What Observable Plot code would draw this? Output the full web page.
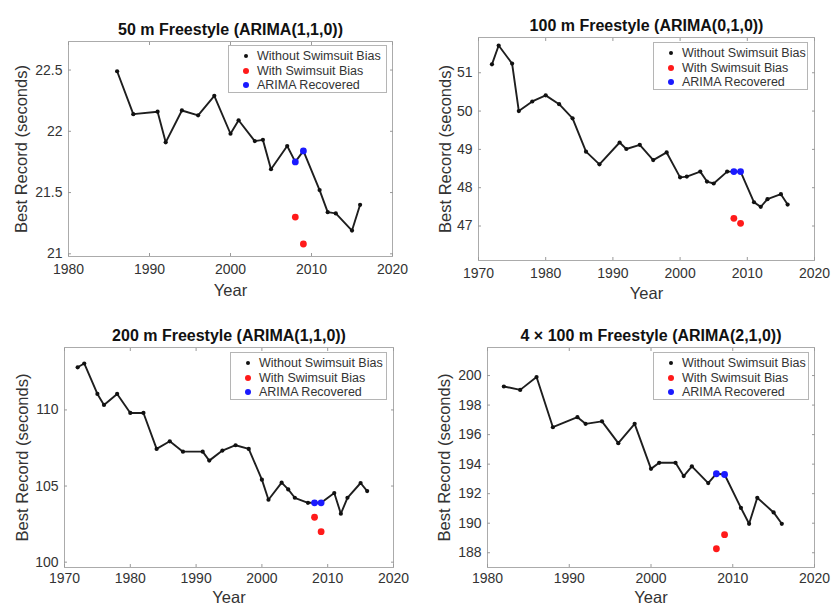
<!DOCTYPE html>
<html><head><meta charset="utf-8">
<script src="https://cdn.jsdelivr.net/npm/d3@7"></script>
<script src="https://cdn.jsdelivr.net/npm/@observablehq/plot@0.6"></script>
<style>
body{margin:0;background:#fff;}
#root{position:relative;width:834px;height:606px;overflow:hidden;background:#fff;font-family:"Liberation Sans",Arial,Helvetica,sans-serif;}
.panel{position:absolute;}
.legend{position:absolute;border:1px solid #b5b5b5;background:#fff;box-sizing:border-box;font-size:12.5px;color:#333;}
.row{position:absolute;left:0;right:0;height:14px;line-height:14px;white-space:nowrap;}
.row span.t{position:absolute;left:28px;top:0;}
.dot{position:absolute;left:14px;top:4px;width:6px;height:6px;border-radius:50%;}
</style></head><body><div id="root"></div>
<script>
// ---- Data ----
const legendLabels = ["Without Swimsuit Bias", "With Swimsuit Bias", "ARIMA Recovered"];
const legendColors = ["#111111", "#ff1a1a", "#1a1aff"];

const titles = ["50 m Freestyle (ARIMA(1,1,0))", "100 m Freestyle (ARIMA(0,1,0))", "200 m Freestyle (ARIMA(1,1,0))", "4 \u00d7 100 m Freestyle (ARIMA(2,1,0))"];

const years50 = [1986,1988,1991,1992,1994,1996,1998,2000,2001,2003,2004,2005,2007,2008,2009,2011,2012,2013,2015,2016];
const vals50 = [22.49,22.14,22.16,21.91,22.17,22.13,22.29,21.98,22.09,21.92,21.93,21.69,21.88,21.75,21.84,21.52,21.34,21.33,21.19,21.40];
const red50 = [21.30, 21.08];
const blue50 = [21.75, 21.84];

const years100 = [1972,1973,1975,1976,1978,1980,1982,1984,1986,1988,1991,1992,1994,1996,1998,2000,2001,2003,2004,2005,2007,2008,2009,2011,2012,2013,2015,2016];
const vals100 = [51.22,51.71,51.24,50.00,50.25,50.41,50.18,49.81,48.94,48.61,49.18,49.01,49.12,48.72,48.92,48.27,48.29,48.42,48.16,48.11,48.42,48.42,48.42,47.62,47.50,47.70,47.83,47.56];
const red100 = [47.20, 47.07];
const blue100 = [48.42, 48.42];

const years200 = [1972,1973,1975,1976,1978,1980,1982,1984,1986,1988,1991,1992,1994,1996,1998,2000,2001,2003,2004,2005,2007,2008,2009,2011,2012,2013,2015,2016];
const vals200 = [112.8,113.05,111.05,110.33,111.05,109.8,109.8,107.44,107.94,107.26,107.26,106.67,107.33,107.68,107.44,105.42,104.1,105.22,104.78,104.23,103.9,103.9,103.9,104.54,103.18,104.23,105.2,104.67];
const red200 = [102.95, 102.0];
const blue200 = [103.9, 103.9];

const years4x100 = [1982,1984,1986,1988,1991,1992,1994,1996,1998,2000,2001,2003,2004,2005,2007,2008,2009,2011,2012,2013,2015,2016];
const vals4x100 = [199.26,199.03,199.9,196.5,197.18,196.73,196.9,195.42,196.73,193.68,194.09,194.09,193.19,193.85,192.72,193.35,193.3,191.04,189.96,191.72,190.73,189.96];
const red4x100 = [188.27, 189.22];
const blue4x100 = [193.35, 193.3];

const biasYears = [2008, 2009];

const xTicks1980 = [1980, 1990, 2000, 2010, 2020];
const xTicks1970 = [1970, 1980, 1990, 2000, 2010, 2020];
const yTicks50 = [21, 21.5, 22, 22.5];
const yTicks100 = [47, 48, 49, 50, 51];
const yTicks200 = [100, 105, 110];
const yTicks4x100 = [188, 190, 192, 194, 196, 198, 200];

const xLabel = "Year";
const yLabel = "Best Record (seconds)";

// ---- Drawing ----
const FONT = '"Liberation Sans", Arial, Helvetica, sans-serif';
const root = document.getElementById("root");

function panel(c) {
  const main = c.years.map((x, i) => ({x, y: c.vals[i]}));
  const red = biasYears.map((x, i) => ({x, y: c.red[i]}));
  const blue = biasYears.map((x, i) => ({x, y: c.blue[i]}));
  const tickStyle = {tickSize: -3, tickFormat: () => "", stroke: "#9a9a9a", label: null};
  const svg = Plot.plot({
    width: c.w, height: c.h,
    marginLeft: c.m[0], marginRight: c.m[1], marginTop: c.m[2], marginBottom: c.m[3],
    style: {fontFamily: FONT, fontSize: "14px", color: "#333", background: "transparent", overflow: "visible"},
    x: {domain: c.xDomain, label: null},
    y: {domain: c.yDomain, label: null},
    marks: [
      Plot.frame({stroke: "#ababab"}),
      Plot.axisX(c.xTicks, {anchor: "bottom", tickSize: 0, tickPadding: c.xPad, label: null, fill: "#333", tickFormat: d => String(d)}),
      Plot.axisY(c.yTicks, {anchor: "left", tickSize: 0, tickPadding: 6, label: null, fill: "#333", tickFormat: d => String(d)}),
      Plot.axisX(c.xTicks, {anchor: "bottom", ...tickStyle}),
      Plot.axisX(c.xTicks, {anchor: "top", ...tickStyle}),
      Plot.axisY(c.yTicks, {anchor: "left", ...tickStyle}),
      Plot.axisY(c.yTicks, {anchor: "right", ...tickStyle}),
      Plot.line(main, {x: "x", y: "y", stroke: "#1e1e1e", strokeWidth: 1.9}),
      Plot.dot(main, {x: "x", y: "y", r: 2.1, fill: "#111", stroke: "none"}),
      Plot.dot(red, {x: "x", y: "y", r: 3.4, fill: legendColors[1], stroke: "none"}),
      Plot.dot(blue, {x: "x", y: "y", r: 3.4, fill: legendColors[2], stroke: "none"}),
      Plot.text([c.title], {text: d => d, frameAnchor: "top", lineAnchor: "middle", textAnchor: "middle", dy: -11.5, fontWeight: "bold", fontSize: 16, fill: "#111"}),
      Plot.text([xLabel], {text: d => d, frameAnchor: "bottom", lineAnchor: "middle", textAnchor: "middle", dy: c.xLab, fontSize: 16.5, fill: "#333"}),
      Plot.text([yLabel], {text: d => d, frameAnchor: "left", lineAnchor: "middle", textAnchor: "middle", rotate: -90, dx: -c.yLab, fontSize: 16.5, fill: "#333"})
    ]
  });
  const d = document.createElement("div");
  d.className = "panel";
  d.style.left = c.left + "px"; d.style.top = c.top + "px";
  d.appendChild(svg);
  root.appendChild(d);

  const lg = document.createElement("div");
  lg.className = "legend";
  lg.style.left = c.lg[0] + "px"; lg.style.top = c.lg[1] + "px";
  lg.style.width = c.lg[2] + "px"; lg.style.height = c.lg[3] + "px";
  legendLabels.forEach((t, i) => {
    const r = document.createElement("div");
    r.className = "row";
    r.style.top = (3 + i * 14.5) + "px";
    const dot = document.createElement("span");
    dot.className = "dot";
    dot.style.background = legendColors[i];
    if (i === 0) { dot.style.width = "4px"; dot.style.height = "4px"; dot.style.top = "5px"; dot.style.left = "15px"; }
    const s = document.createElement("span");
    s.className = "t"; s.textContent = t;
    r.appendChild(dot); r.appendChild(s);
    lg.appendChild(r);
  });
  root.appendChild(lg);
}

panel({left: 0, top: 0, w: 417, h: 300, m: [68, 25, 41, 44], xDomain: [1980, 2020], yDomain: [20.978, 22.733],
  xTicks: xTicks1980, yTicks: yTicks50, years: years50, vals: vals50, red: red50, blue: blue50,
  title: titles[0], xPad: 8, xLab: 34, yLab: 47, lg: [228, 45, 159, 48]});
panel({left: 417, top: 0, w: 417, h: 300, m: [61, 20, 37, 40], xDomain: [1970, 2020], yDomain: [46.1, 51.92],
  xTicks: xTicks1970, yTicks: yTicks100, years: years100, vals: vals100, red: red100, blue: blue100,
  title: titles[1], xPad: 8, xLab: 33, yLab: 33, lg: [653, 42, 155, 48]});
panel({left: 0, top: 300, w: 417, h: 306, m: [64, 24, 47, 39], xDomain: [1970, 2020], yDomain: [99.65, 114.1],
  xTicks: xTicks1970, yTicks: yTicks200, years: years200, vals: vals200, red: red200, blue: blue200,
  title: titles[2], xPad: 6, xLab: 30, yLab: 42, lg: [230, 352, 157, 48]});
panel({left: 417, top: 300, w: 417, h: 306, m: [70, 20, 47, 39], xDomain: [1980, 2020], yDomain: [187.0, 201.9],
  xTicks: xTicks1980, yTicks: yTicks4x100, years: years4x100, vals: vals4x100, red: red4x100, blue: blue4x100,
  title: titles[3], xPad: 6, xLab: 30, yLab: 43, lg: [653, 352, 156, 48]});
</script></body></html>
